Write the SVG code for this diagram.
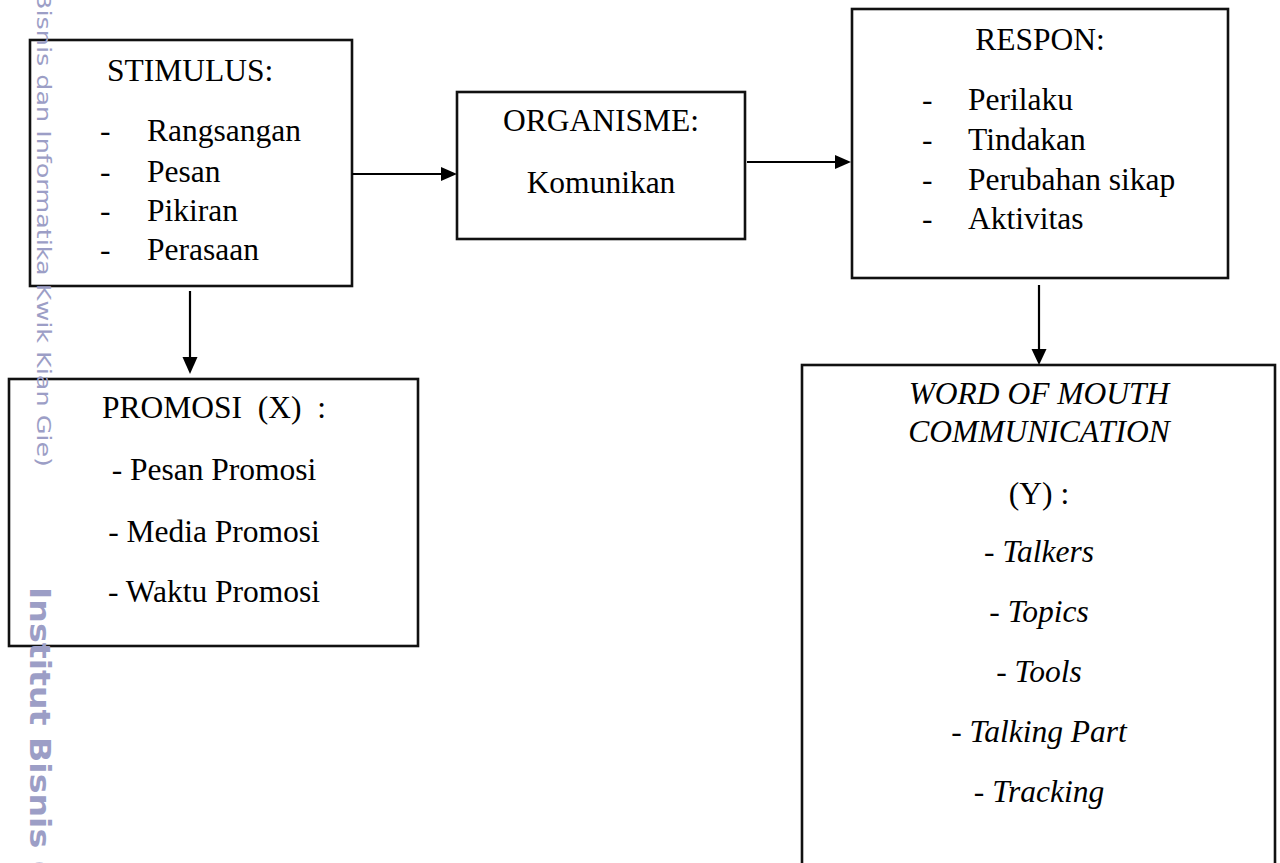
<svg xmlns="http://www.w3.org/2000/svg" width="1280" height="863" viewBox="0 0 1280 863">
<defs>
<style>
.box{fill:#fff;stroke:#111;stroke-width:2.6}
.t{font-family:"Liberation Serif","Times New Roman",serif;font-size:31.5px;fill:#000}
.c{text-anchor:middle}
.i{font-style:italic}
.ln{stroke:#000;stroke-width:2.2;fill:none}
.hd{fill:#000}
.wm{font-family:"DejaVu Sans","Noto Sans",sans-serif;fill:#9c9ec6}
</style>
</defs>
<rect width="1280" height="863" fill="#fff"/>

<g id="stimulus">
<rect class="box" x="30" y="40" width="322" height="246"/>
<text class="t" x="107" y="81">STIMULUS:</text>
<text class="t" x="100" y="141">-</text><text class="t" x="147" y="141">Rangsangan</text>
<text class="t" x="100" y="182">-</text><text class="t" x="147" y="182">Pesan</text>
<text class="t" x="100" y="221">-</text><text class="t" x="147" y="221">Pikiran</text>
<text class="t" x="100" y="260">-</text><text class="t" x="147" y="260">Perasaan</text>
</g>

<g id="organisme">
<rect class="box" x="457" y="92" width="288" height="147"/>
<text class="t c" x="601" y="131">ORGANISME:</text>
<text class="t c" x="601" y="193">Komunikan</text>
</g>

<g id="respon">
<rect class="box" x="852" y="9" width="376" height="269"/>
<text class="t c" x="1040" y="50">RESPON:</text>
<text class="t" x="922" y="110">-</text><text class="t" x="968" y="110">Perilaku</text>
<text class="t" x="922" y="150">-</text><text class="t" x="968" y="150">Tindakan</text>
<text class="t" x="922" y="190">-</text><text class="t" x="968" y="190">Perubahan sikap</text>
<text class="t" x="922" y="229">-</text><text class="t" x="968" y="229">Aktivitas</text>
</g>

<g id="promosi">
<rect class="box" x="9" y="379" width="409" height="267"/>
<text class="t c" x="214" y="418" xml:space="preserve">PROMOSI  (X)  :</text>
<text class="t c" x="214" y="480">- Pesan Promosi</text>
<text class="t c" x="214" y="542">- Media Promosi</text>
<text class="t c" x="214" y="602">- Waktu Promosi</text>
</g>

<g id="wom">
<rect class="box" x="802" y="365" width="473" height="520"/>
<text class="t c i" x="1039" y="404">WORD OF MOUTH</text>
<text class="t c i" x="1039" y="442">COMMUNICATION</text>
<text class="t c" x="1039" y="504">(Y) :</text>
<text class="t c" x="1039" y="562">- <tspan class="i">Talkers</tspan></text>
<text class="t c" x="1039" y="622">- <tspan class="i">Topics</tspan></text>
<text class="t c" x="1039" y="682">- <tspan class="i">Tools</tspan></text>
<text class="t c" x="1039" y="742">- <tspan class="i">Talking Part</tspan></text>
<text class="t c" x="1039" y="802">- <tspan class="i">Tracking</tspan></text>
</g>

<g id="connectors">
<line class="ln" x1="352" y1="174" x2="444" y2="174"/>
<polygon class="hd" points="457,174 441,167 441,181"/>
<line class="ln" x1="747" y1="162" x2="838" y2="162"/>
<polygon class="hd" points="851,162 835,155 835,169"/>
<line class="ln" x1="190" y1="291" x2="190" y2="360"/>
<polygon class="hd" points="190,374 182.5,357 197.5,357"/>
<line class="ln" x1="1039" y1="285" x2="1039" y2="352"/>
<polygon class="hd" points="1039,365 1031.5,349 1046.5,349"/>
</g>

<g id="watermark">
<text class="wm" transform="translate(37,-8) rotate(90)" x="0" y="0" font-size="19" textLength="475" lengthAdjust="spacingAndGlyphs">Bisnis dan Informatika Kwik Kian Gie)</text>
<text class="wm" transform="translate(30,587) rotate(90)" x="0" y="0" font-size="28" font-weight="bold" textLength="288" lengthAdjust="spacingAndGlyphs">Institut Bisnis (</text>
</g>
</svg>
